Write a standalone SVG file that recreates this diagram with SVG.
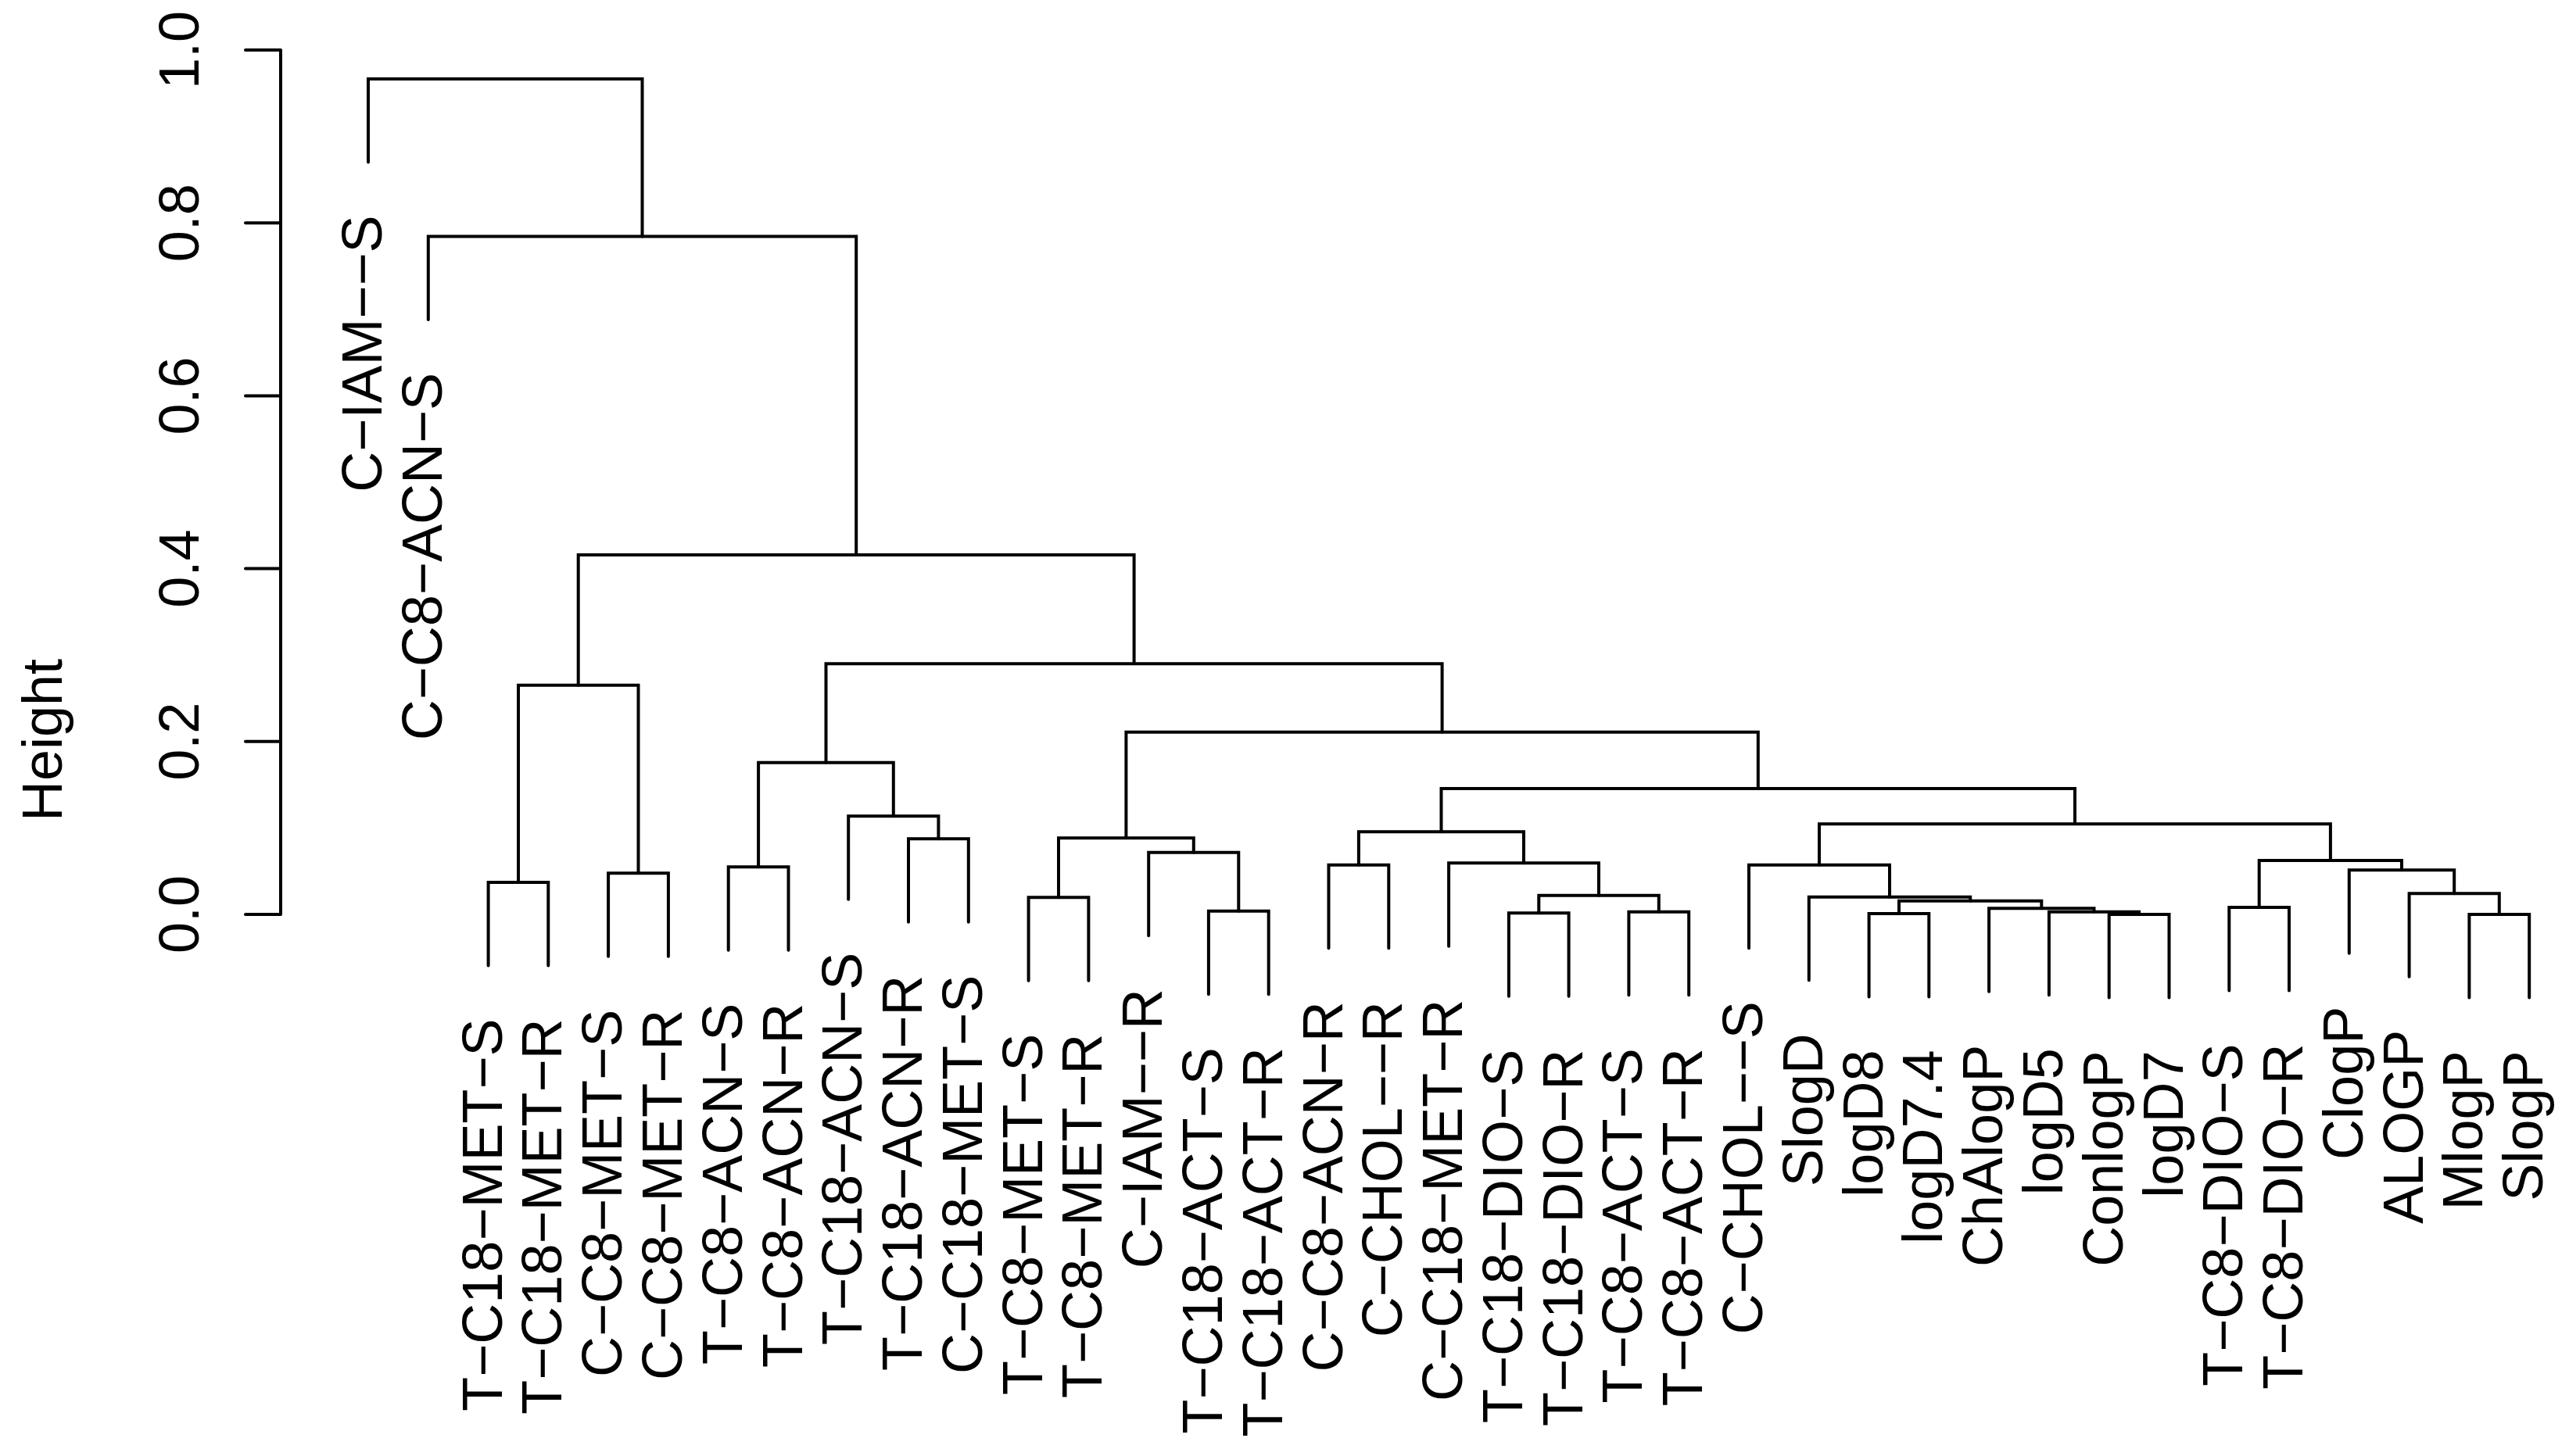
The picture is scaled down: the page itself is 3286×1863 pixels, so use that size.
<svg xmlns="http://www.w3.org/2000/svg" width="3286" height="1863" viewBox="0 0 3286 1863">
<style>
text{font-family:"Liberation Sans",Arial,sans-serif;font-size:72px;fill:#000}
.lbl{text-anchor:end}
.tk{text-anchor:middle}
.ln{fill:none;stroke:#000;stroke-width:4;stroke-linecap:round;stroke-linejoin:miter}
</style>
<rect width="3286" height="1863" fill="#fff"/>
<g id="axis">
<path class="ln" d="M359,64V1170M314,1170H359M314,948.8H359M314,727.6H359M314,506.4H359M314,285.2H359M314,64H359"/>
<text class="tk" transform="translate(254,1170) rotate(-90)">0.0</text>
<text class="tk" transform="translate(254,948.8) rotate(-90)">0.2</text>
<text class="tk" transform="translate(254,727.6) rotate(-90)">0.4</text>
<text class="tk" transform="translate(254,506.4) rotate(-90)">0.6</text>
<text class="tk" transform="translate(254,285.2) rotate(-90)">0.8</text>
<text class="tk" transform="translate(254,64) rotate(-90)">1.0</text>
<text class="tk" transform="translate(79,947) rotate(-90)">Height</text>
</g>
<g id="connectors" class="ln">
<path class="ln" d="M471,207.5V101H821.5V302.5"/>
<path class="ln" d="M547.8,409V302.5H1095.2V710"/>
<path class="ln" d="M739.7,876.7V710H1450.6V849.2"/>
<path class="ln" d="M663,1129V876.7H816.5V1117.3"/>
<path class="ln" d="M624.6,1235.5V1129H701.3V1235.5"/>
<path class="ln" d="M778.1,1223.8V1117.3H854.9V1223.8"/>
<path class="ln" d="M1056.5,975.7V849.2H1844.6V936.8"/>
<path class="ln" d="M970.1,1109.3V975.7H1142.8V1044.3"/>
<path class="ln" d="M931.7,1215.8V1109.3H1008.5V1215.8"/>
<path class="ln" d="M1085.2,1150.8V1044.3H1200.4V1073.3"/>
<path class="ln" d="M1162,1179.8V1073.3H1238.8V1179.8"/>
<path class="ln" d="M1440.4,1072.3V936.8H2248.8V1009"/>
<path class="ln" d="M1354,1148.3V1072.3H1526.8V1090.7"/>
<path class="ln" d="M1315.6,1254.8V1148.3H1392.4V1254.8"/>
<path class="ln" d="M1469.2,1197.2V1090.7H1584.3V1165.7"/>
<path class="ln" d="M1545.9,1272.2V1165.7H1622.7V1272.2"/>
<path class="ln" d="M1843.5,1064.3V1009H2654V1054.3"/>
<path class="ln" d="M1737.9,1106.7V1064.3H1949V1104.3"/>
<path class="ln" d="M1699.5,1213.2V1106.7H1776.3V1213.2"/>
<path class="ln" d="M1853.1,1210.8V1104.3H2045V1145.7"/>
<path class="ln" d="M1968.3,1168.3V1145.7H2121.8V1166.7"/>
<path class="ln" d="M1929.9,1274.8V1168.3H2006.6V1274.8"/>
<path class="ln" d="M2083.4,1273.2V1166.7H2160.2V1273.2"/>
<path class="ln" d="M2327,1106.7V1054.3H2980.9V1101"/>
<path class="ln" d="M2237,1213.2V1106.7H2417V1147.7"/>
<path class="ln" d="M2313.8,1254.2V1147.7H2520.2V1152.7"/>
<path class="ln" d="M2429,1169V1152.7H2611.3V1162.3"/>
<path class="ln" d="M2390.6,1275.5V1169H2467.3V1275.5"/>
<path class="ln" d="M2544.1,1268.8V1162.3H2678.5V1166.7"/>
<path class="ln" d="M2620.9,1273.2V1166.7H2736.1V1170"/>
<path class="ln" d="M2697.7,1276.5V1170H2774.5V1276.5"/>
<path class="ln" d="M2889.7,1161V1101H3072V1113.3"/>
<path class="ln" d="M2851.3,1267.5V1161H2928V1267.5"/>
<path class="ln" d="M3004.8,1219.8V1113.3H3139.2V1143.3"/>
<path class="ln" d="M3081.6,1249.8V1143.3H3196.8V1170"/>
<path class="ln" d="M3158.4,1276.5V1170H3235.2V1276.5"/>
</g>
<g id="leaf-1"><text class="lbl" transform="translate(488,275.5) rotate(-90)">C−IAM−−S</text></g>
<g id="leaf-2"><text class="lbl" transform="translate(564.8,477) rotate(-90)">C−C8−ACN−S</text></g>
<g id="leaf-3"><text class="lbl" transform="translate(641.6,1303.5) rotate(-90)">T−C18−MET−S</text></g>
<g id="leaf-4"><text class="lbl" transform="translate(718.3,1303.5) rotate(-90)">T−C18−MET−R</text></g>
<g id="leaf-5"><text class="lbl" transform="translate(795.1,1291.8) rotate(-90)">C−C8−MET−S</text></g>
<g id="leaf-6"><text class="lbl" transform="translate(871.9,1291.8) rotate(-90)">C−C8−MET−R</text></g>
<g id="leaf-7"><text class="lbl" transform="translate(948.7,1283.8) rotate(-90)">T−C8−ACN−S</text></g>
<g id="leaf-8"><text class="lbl" transform="translate(1025.5,1283.8) rotate(-90)">T−C8−ACN−R</text></g>
<g id="leaf-9"><text class="lbl" transform="translate(1102.2,1218.8) rotate(-90)">T−C18−ACN−S</text></g>
<g id="leaf-10"><text class="lbl" transform="translate(1179,1247.8) rotate(-90)">T−C18−ACN−R</text></g>
<g id="leaf-11"><text class="lbl" transform="translate(1255.8,1247.8) rotate(-90)">C−C18−MET−S</text></g>
<g id="leaf-12"><text class="lbl" transform="translate(1332.6,1322.8) rotate(-90)">T−C8−MET−S</text></g>
<g id="leaf-13"><text class="lbl" transform="translate(1409.4,1322.8) rotate(-90)">T−C8−MET−R</text></g>
<g id="leaf-14"><text class="lbl" transform="translate(1486.2,1265.2) rotate(-90)">C−IAM−−R</text></g>
<g id="leaf-15"><text class="lbl" transform="translate(1562.9,1340.2) rotate(-90)">T−C18−ACT−S</text></g>
<g id="leaf-16"><text class="lbl" transform="translate(1639.7,1340.2) rotate(-90)">T−C18−ACT−R</text></g>
<g id="leaf-17"><text class="lbl" transform="translate(1716.5,1281.2) rotate(-90)">C−C8−ACN−R</text></g>
<g id="leaf-18"><text class="lbl" transform="translate(1793.3,1281.2) rotate(-90)">C−CHOL−−R</text></g>
<g id="leaf-19"><text class="lbl" transform="translate(1870.1,1278.8) rotate(-90)">C−C18−MET−R</text></g>
<g id="leaf-20"><text class="lbl" transform="translate(1946.9,1342.8) rotate(-90)">T−C18−DIO−S</text></g>
<g id="leaf-21"><text class="lbl" transform="translate(2023.6,1342.8) rotate(-90)">T−C18−DIO−R</text></g>
<g id="leaf-22"><text class="lbl" transform="translate(2100.4,1341.2) rotate(-90)">T−C8−ACT−S</text></g>
<g id="leaf-23"><text class="lbl" transform="translate(2177.2,1341.2) rotate(-90)">T−C8−ACT−R</text></g>
<g id="leaf-24"><text class="lbl" transform="translate(2254,1281.2) rotate(-90)">C−CHOL−−S</text></g>
<g id="leaf-25"><text class="lbl" transform="translate(2330.8,1322.2) rotate(-90)">SlogD</text></g>
<g id="leaf-26"><text class="lbl" transform="translate(2407.6,1343.5) rotate(-90)">logD8</text></g>
<g id="leaf-27"><text class="lbl" transform="translate(2484.3,1343.5) rotate(-90)">logD7.4</text></g>
<g id="leaf-28"><text class="lbl" transform="translate(2561.1,1336.8) rotate(-90)">ChAlogP</text></g>
<g id="leaf-29"><text class="lbl" transform="translate(2637.9,1341.2) rotate(-90)">logD5</text></g>
<g id="leaf-30"><text class="lbl" transform="translate(2714.7,1344.5) rotate(-90)">ConlogP</text></g>
<g id="leaf-31"><text class="lbl" transform="translate(2791.5,1344.5) rotate(-90)">logD7</text></g>
<g id="leaf-32"><text class="lbl" transform="translate(2868.3,1335.5) rotate(-90)">T−C8−DIO−S</text></g>
<g id="leaf-33"><text class="lbl" transform="translate(2945,1335.5) rotate(-90)">T−C8−DIO−R</text></g>
<g id="leaf-34"><text class="lbl" transform="translate(3021.8,1287.8) rotate(-90)">ClogP</text></g>
<g id="leaf-35"><text class="lbl" transform="translate(3098.6,1317.8) rotate(-90)">ALOGP</text></g>
<g id="leaf-36"><text class="lbl" transform="translate(3175.4,1344.5) rotate(-90)">MlogP</text></g>
<g id="leaf-37"><text class="lbl" transform="translate(3252.2,1344.5) rotate(-90)">SlogP</text></g>
</svg>
